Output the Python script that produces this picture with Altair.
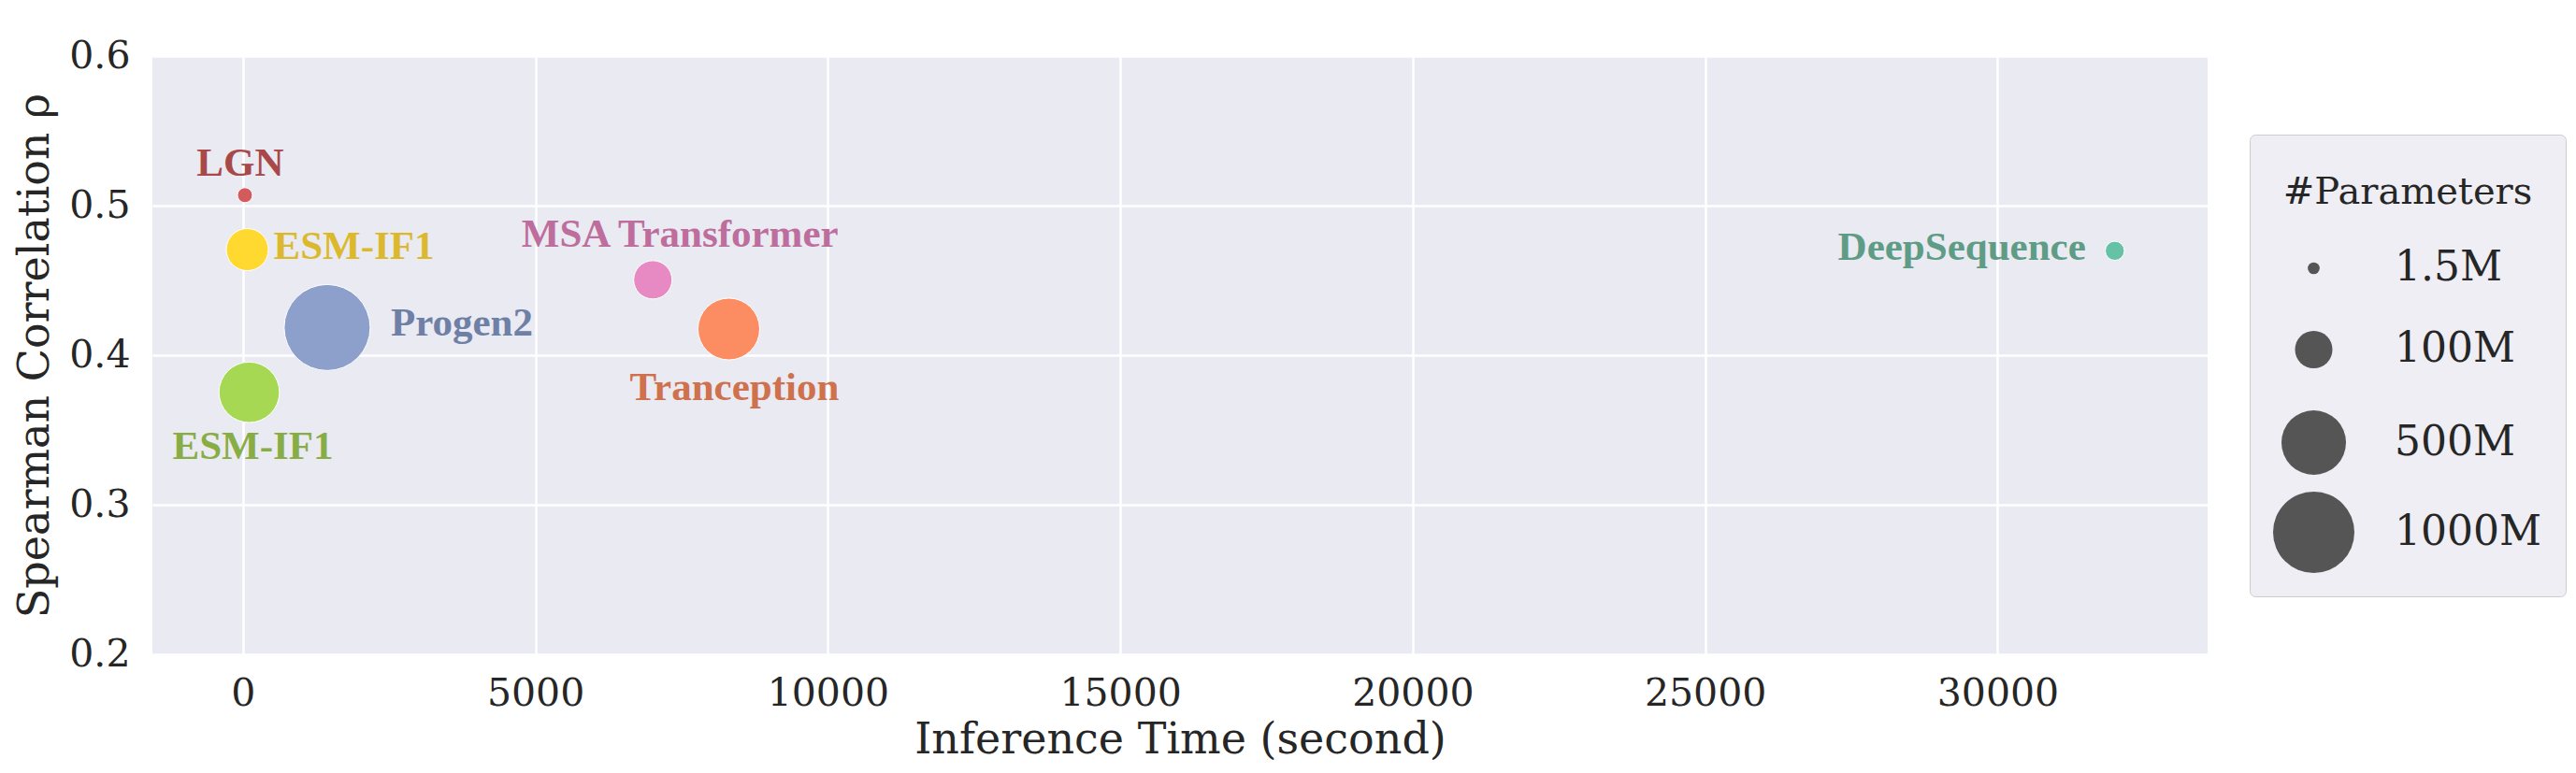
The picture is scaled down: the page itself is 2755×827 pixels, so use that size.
import altair as alt
import pandas as pd

# ---- data ----
models = ["LGN", "ESM-IF1", "Progen2", "ESM-IF1", "MSA Transformer", "Tranception", "DeepSequence"]
keys = ["k0", "k1", "k2", "k3", "k4", "k5", "k6"]
inference_time = [34, 75, 1440, 107, 7008, 8307, 32003]
spearman = [0.507, 0.4706, 0.4185, 0.3752, 0.4504, 0.4175, 0.4698]
params_m = [8, 154, 1160, 427, 110, 449, 19]
point_colors = ["#d35b5b", "#ffd92f", "#8da0cb", "#a6d854", "#e78ac3", "#fc8d62", "#66c2a5"]
text_colors = ["#a94848", "#dcb92c", "#6f80a6", "#88ad45", "#bd6e9c", "#cf714d", "#5e9c85"]

legend_values = [1.5, 100, 500, 1000]
legend_diam = [12.7, 40, 69, 87]

# label placement (style): dx, dy, align
label_style = [
    (-5, -21, "center"),
    (28, 10, "left"),
    (68, 9, "left"),
    (4, 71, "center"),
    (29, -35, "center"),
    (6, 76, "center"),
    (-31, 10, "right"),
]

df = pd.DataFrame({
    "model": models,
    "key": keys,
    "time": inference_time,
    "rho": spearman,
    "params": params_m,
})

x_enc = alt.X("time:Q",
              scale=alt.Scale(domain=[-1548, 33590], nice=False, zero=False),
              axis=alt.Axis(values=[0, 5000, 10000, 15000, 20000, 25000, 30000], format="d",
                            title="Inference Time (second)", titlePadding=7, labelPadding=22))
y_enc = alt.Y("rho:Q",
              scale=alt.Scale(domain=[0.2, 0.6], nice=False, zero=False),
              axis=alt.Axis(values=[0.2, 0.3, 0.4, 0.5, 0.6], format=".1f",
                            title="Spearman Correlation ρ", titlePadding=12, labelPadding=24))

points = alt.Chart(df).mark_circle(opacity=1, stroke="white", strokeWidth=1).encode(
    x=x_enc,
    y=y_enc,
    color=alt.Color("key:N", scale=alt.Scale(domain=keys, range=point_colors), legend=None),
    size=alt.Size("params:Q",
                  scale=alt.Scale(domain=legend_values, range=[d * d for d in legend_diam], clamp=False),
                  legend=alt.Legend(
                      title=["", "#Parameters"],
                      values=legend_values,
                      labelExpr="datum.value + 'M'",
                      orient="none", legendX=2243, legendY=84,
                      fillColor="#eeeef4", strokeColor="#cccccc", cornerRadius=6,
                      padding=25,
                      titleFont="DejaVu Serif", titleFontSize=40, titleFontWeight="normal",
                      titleColor="#262626", titleAnchor="middle", titleLineHeight=17,
                      titlePadding=39, titleLimit=600,
                      labelFont="DejaVu Serif", labelFontSize=44, labelColor="#262626",
                      labelLimit=600,
                      labelOffset=43, rowPadding=-3, gridAlign="all",
                      symbolType="circle", symbolFillColor="#555555",
                      symbolStrokeColor="#555555", symbolOpacity=1, symbolStrokeWidth=0,
                  )),
)

layers = [points]
for i in range(len(models)):
    dx, dy, al = label_style[i]
    t = alt.Chart(df).transform_filter(alt.datum.key == keys[i]).mark_text(
        font="Liberation Serif", fontWeight="bold", fontSize=43,
        color=text_colors[i], align=al, baseline="alphabetic", dx=dx, dy=dy,
    ).encode(x=alt.X("time:Q"), y=alt.Y("rho:Q"), text="model:N")
    layers.append(t)

chart = alt.layer(*layers).properties(
    width=2198, height=640,
    padding={"left": 155, "top": 52, "right": 386, "bottom": 119},
    autosize=alt.AutoSizeParams(type="none"),
).configure_view(
    fill="#eaeaf2", stroke=None,
).configure_axis(
    domain=False, ticks=False, grid=True, gridColor="white", gridWidth=2.5,
    labelFont="DejaVu Serif", labelFontSize=41, labelColor="#262626",
    titleFont="DejaVu Serif", titleFontSize=46, titleColor="#262626", titleFontWeight="normal",
)

chart.save("out.html", embed_options={"renderer": "svg", "actions": False})
